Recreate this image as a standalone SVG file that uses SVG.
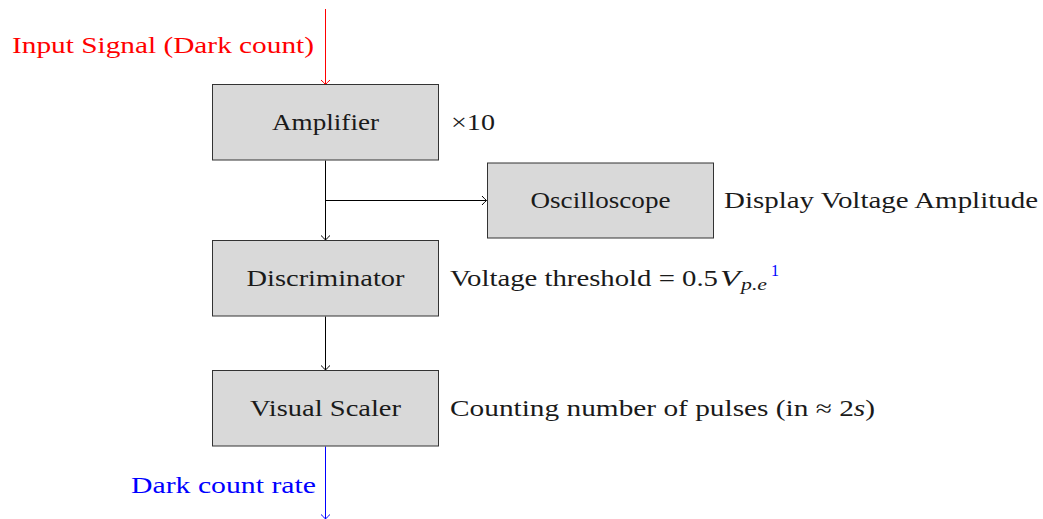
<svg xmlns="http://www.w3.org/2000/svg" width="1043" height="519" viewBox="0 0 1043 519">
<style>
.box{fill:#d9d9d9;stroke:#333;stroke-width:1}
text{font-family:'Liberation Serif',serif;font-size:23px;fill:#1a1a1a}
.c{text-anchor:middle}
.ln{fill:none;stroke-width:1}
.it{font-style:italic}
.sm{font-size:16px}
.red{fill:#f00}
.blue{fill:#00f}
</style>
<defs>
<marker id="ak" markerUnits="userSpaceOnUse" markerWidth="12" markerHeight="12" refX="0" refY="0" viewBox="-6 -6 7 12" orient="auto" overflow="visible">
<path d="M-4.5,-4.5 Q-1.5,-1.2 0,0 Q-1.5,1.2 -4.5,4.5" fill="none" stroke="#000" stroke-width="1"/>
</marker>
<marker id="ar" markerUnits="userSpaceOnUse" markerWidth="12" markerHeight="12" refX="0" refY="0" viewBox="-6 -6 7 12" orient="auto" overflow="visible">
<path d="M-4.5,-4.5 Q-1.5,-1.2 0,0 Q-1.5,1.2 -4.5,4.5" fill="none" stroke="#f00" stroke-width="1"/>
</marker>
<marker id="ab" markerUnits="userSpaceOnUse" markerWidth="12" markerHeight="12" refX="0" refY="0" viewBox="-6 -6 7 12" orient="auto" overflow="visible">
<path d="M-4.5,-4.5 Q-1.5,-1.2 0,0 Q-1.5,1.2 -4.5,4.5" fill="none" stroke="#00f" stroke-width="1"/>
</marker>
</defs>

<g id="connectors">
<line class="ln" x1="325.5" y1="9" x2="325.5" y2="84.5" stroke="#f00" marker-end="url(#ar)"/>
<line class="ln" x1="325.5" y1="160.5" x2="325.5" y2="240" stroke="#000" marker-end="url(#ak)"/>
<line class="ln" x1="325.5" y1="200.5" x2="486.5" y2="200.5" stroke="#000" marker-end="url(#ak)"/>
<line class="ln" x1="325.5" y1="316.5" x2="325.5" y2="370" stroke="#000" marker-end="url(#ak)"/>
<line class="ln" x1="325.5" y1="446.5" x2="325.5" y2="519" stroke="#00f" marker-end="url(#ab)"/>
</g>

<g id="input-label">
<text class="red" x="12" y="53" textLength="302" lengthAdjust="spacingAndGlyphs">Input Signal (Dark count)</text>
</g>

<g id="amplifier">
<rect class="box" x="212.5" y="84.5" width="226" height="75.5"/>
<text class="c" x="325.5" y="129.5" textLength="107" lengthAdjust="spacingAndGlyphs">Amplifier</text>
<text x="451" y="129.5" textLength="44" lengthAdjust="spacingAndGlyphs">×10</text>
</g>

<g id="oscilloscope">
<rect class="box" x="487.5" y="163" width="226" height="75"/>
<text class="c" x="600.5" y="207.5" textLength="140" lengthAdjust="spacingAndGlyphs">Oscilloscope</text>
<text x="724" y="207.5" textLength="314" lengthAdjust="spacingAndGlyphs">Display Voltage Amplitude</text>
</g>

<g id="discriminator">
<rect class="box" x="212.5" y="240.5" width="226" height="75.5"/>
<text class="c" x="325.5" y="285.5" textLength="158" lengthAdjust="spacingAndGlyphs">Discriminator</text>
<text x="450" y="285.5" textLength="268" lengthAdjust="spacingAndGlyphs">Voltage threshold = 0.5</text>
<text class="it" x="720" y="285.5" textLength="20" lengthAdjust="spacingAndGlyphs">V</text>
<text class="it sm" x="741" y="290" textLength="26" lengthAdjust="spacingAndGlyphs">p.e</text>
<text class="sm blue" x="771" y="276">1</text>
</g>

<g id="visual-scaler">
<rect class="box" x="212.5" y="370.5" width="226" height="75.5"/>
<text class="c" x="325.5" y="415.5" textLength="151" lengthAdjust="spacingAndGlyphs">Visual Scaler</text>
<text x="450" y="415.5" textLength="425" lengthAdjust="spacingAndGlyphs">Counting number of pulses (in ≈ 2<tspan class="it">s</tspan>)</text>
</g>

<g id="output-label">
<text class="blue" x="131" y="492.5" textLength="185" lengthAdjust="spacingAndGlyphs">Dark count rate</text>
</g>
</svg>
